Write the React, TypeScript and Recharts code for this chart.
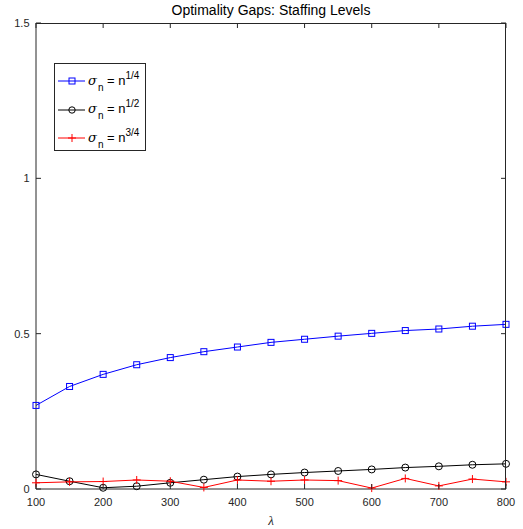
import { LineChart, Line, XAxis, YAxis, Legend } from 'recharts';

const lambdas = [100, 150, 200, 250, 300, 350, 400, 450, 500, 550, 600, 650, 700, 750, 800];
const gapQuarter = [0.269, 0.33, 0.369, 0.4, 0.423, 0.442, 0.457, 0.472, 0.482, 0.492, 0.501, 0.51, 0.515, 0.524, 0.53];
const gapHalf = [0.047, 0.025, 0.004, 0.009, 0.02, 0.03, 0.04, 0.047, 0.053, 0.058, 0.063, 0.069, 0.073, 0.078, 0.081];
const gapThreeQuarter = [0.02, 0.023, 0.024, 0.029, 0.025, 0.005, 0.029, 0.025, 0.029, 0.027, 0.003, 0.034, 0.01, 0.032, 0.023];
const xTicks = [100, 200, 300, 400, 500, 600, 700, 800];
const yTicks = [0, 0.5, 1, 1.5];

const data = lambdas.map((l, i) => ({
  lambda: l,
  quarter: gapQuarter[i],
  half: gapHalf[i],
  threeQuarter: gapThreeQuarter[i],
}));

const AXIS = '#262626';
const FONT = '"Liberation Sans", Arial, Helvetica, sans-serif';
const W = 523;
const H = 529;
const Y_AXIS_W = 36;
const X_AXIS_H = 40;
const MARGIN = { top: 23, right: 17, bottom: 0, left: 0 };
const PLOT_TOP = MARGIN.top;
const PLOT_RIGHT = W - MARGIN.right;

// bottom ticks also draw the matching top ticks (MATLAB style: ticks point inward on every side)
const renderBottomTick = ({ x, y, payload }: any) => (
  <g key={`bt-${payload.value}`}>
    <path d={`M${x},${y}V${y - 5}M${x},${PLOT_TOP}V${PLOT_TOP + 5}`} stroke={AXIS} strokeWidth={1} fill="none" />
    <text x={x} y={y + 17} textAnchor="middle" fontSize={11} fill={AXIS} fontFamily={FONT}>
      {payload.value}
    </text>
  </g>
);

const renderLeftTick = ({ x, y, payload }: any) => (
  <g key={`lt-${payload.value}`}>
    <path d={`M${x},${y}H${x + 5}M${PLOT_RIGHT},${y}H${PLOT_RIGHT - 5}`} stroke={AXIS} strokeWidth={1} fill="none" />
    <text x={x - 6.5} y={y + 4} textAnchor="end" fontSize={11} fill={AXIS} fontFamily={FONT}>
      {payload.value}
    </text>
  </g>
);

const SquareDot = (p: any) => (
  <rect key={`sq-${p.index}`} x={p.cx - 3} y={p.cy - 3} width={6} height={6} fill="none" stroke="#0000ff" strokeWidth={1} />
);
const CircleDot = (p: any) => (
  <circle key={`ci-${p.index}`} cx={p.cx} cy={p.cy} r={3.5} fill="none" stroke="#000000" strokeWidth={1} />
);
const PlusDot = (p: any) => (
  <path key={`pl-${p.index}`} d={`M${p.cx - 4},${p.cy}H${p.cx + 4}M${p.cx},${p.cy - 4}V${p.cy + 4}`} stroke="#ff0000" strokeWidth={1} />
);

const legendItems = [
  { color: '#0000ff', marker: 'square', exp: '1/4' },
  { color: '#000000', marker: 'circle', exp: '1/2' },
  { color: '#ff0000', marker: 'plus', exp: '3/4' },
];

const LegendBox = () => (
  <div style={{ border: `1px solid ${AXIS}`, background: '#fff', width: 92, height: 88, boxSizing: 'border-box', paddingTop: 3, fontFamily: FONT, color: '#000' }}>
    {legendItems.map((it) => (
      <div key={it.exp} style={{ display: 'flex', alignItems: 'center', height: 28.5 }}>
        <svg width={31} height={12} style={{ marginLeft: 1, flexShrink: 0 }}>
          <line x1={2} y1={6} x2={29} y2={6} stroke={it.color} />
          {it.marker === 'square' && <rect x={13} y={3} width={6} height={6} fill="none" stroke={it.color} />}
          {it.marker === 'circle' && <circle cx={16} cy={6} r={3.2} fill="none" stroke={it.color} />}
          {it.marker === 'plus' && <path d="M12,6H20M16,2V10" stroke={it.color} />}
        </svg>
        <span style={{ fontSize: 13, whiteSpace: 'nowrap', lineHeight: '13px', marginLeft: 1 }}>
          <i style={{ fontFamily: '"DejaVu Serif", serif', fontSize: 13 }}>σ</i>
          <sub style={{ fontSize: 10, verticalAlign: -6, marginLeft: 1 }}>n</sub> = n
          <sup style={{ fontSize: 10, verticalAlign: 6 }}>{it.exp}</sup>
        </span>
      </div>
    ))}
  </div>
);

export default function App() {
  return (
    <div style={{ position: 'absolute', left: 0, top: 0, width: W, height: H, background: '#fff' }}>
      <div style={{ position: 'absolute', left: 36, width: 470, top: 2, textAlign: 'center', fontSize: 14, fontFamily: FONT, color: '#000' }}>
        Optimality Gaps: Staffing Levels
      </div>
      <LineChart width={W} height={H} data={data} margin={MARGIN}>
        <XAxis
          dataKey="lambda"
          type="number"
          domain={[100, 800]}
          ticks={xTicks}
          interval={0}
          height={X_AXIS_H}
          tickSize={0}
          tickMargin={0}
          stroke={AXIS}
          tick={renderBottomTick}
          label={{ value: 'λ', position: 'insideBottom', offset: 4, fontSize: 13, fill: AXIS, fontStyle: 'italic' }}
        />
        <YAxis
          type="number"
          domain={[0, 1.5]}
          ticks={yTicks}
          interval={0}
          width={Y_AXIS_W}
          tickSize={0}
          tickMargin={0}
          stroke={AXIS}
          tick={renderLeftTick}
        />
        <Legend
          layout="vertical"
          align="center"
          verticalAlign="middle"
          content={<LegendBox />}
          wrapperStyle={{ position: 'absolute', left: 54, top: 63, width: 92, height: 88 }}
        />
        <Line type="linear" dataKey="quarter" stroke="#0000ff" strokeWidth={1} dot={SquareDot} isAnimationActive={false} />
        <Line type="linear" dataKey="half" stroke="#000000" strokeWidth={1} dot={CircleDot} isAnimationActive={false} />
        <Line type="linear" dataKey="threeQuarter" stroke="#ff0000" strokeWidth={1} dot={PlusDot} isAnimationActive={false} />
      </LineChart>
      {/* axes box: top and right edges of the plot area */}
      <div
        style={{
          position: 'absolute',
          left: MARGIN.left + Y_AXIS_W,
          top: PLOT_TOP - 0.5,
          width: PLOT_RIGHT - MARGIN.left - Y_AXIS_W,
          height: H - MARGIN.bottom - X_AXIS_H - PLOT_TOP,
          borderTop: `1px solid ${AXIS}`,
          borderRight: `1px solid ${AXIS}`,
          boxSizing: 'border-box',
          pointerEvents: 'none',
        }}
      />
    </div>
  );
}
